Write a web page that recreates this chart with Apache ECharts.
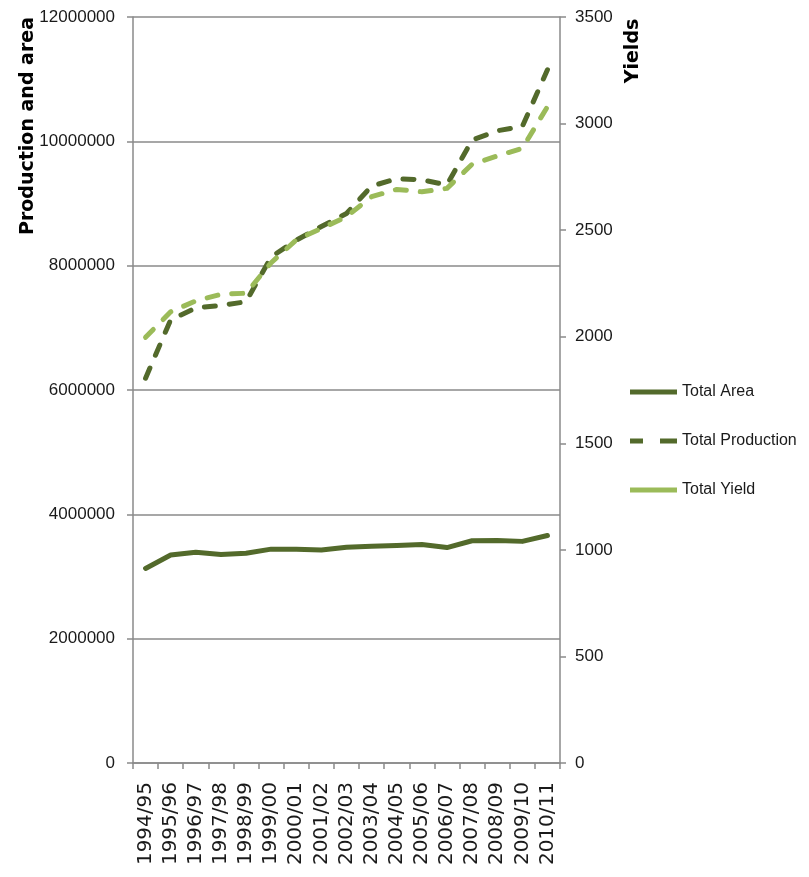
<!DOCTYPE html>
<html>
<head>
<meta charset="utf-8">
<script src="https://cdn.jsdelivr.net/npm/echarts@6/dist/echarts.min.js"></script>
<style>html,body{margin:0;padding:0;background:#fff}#c{width:809px;height:877px}</style>
</head>
<body>
<div id="c"></div>
<script>
const categories = ['1994/95','1995/96','1996/97','1997/98','1998/99','1999/00','2000/01','2001/02','2002/03','2003/04','2004/05','2005/06','2006/07','2007/08','2008/09','2009/10','2010/11'];
const totalArea = [3130000,3345000,3390000,3355000,3375000,3440000,3440000,3425000,3470000,3485000,3500000,3515000,3465000,3575000,3578000,3565000,3660000];
const totalProduction = [6190000,7130000,7320000,7360000,7420000,8140000,8410000,8630000,8840000,9280000,9400000,9380000,9300000,10020000,10170000,10240000,11150000];
const totalYield = [1997,2117,2168,2199,2204,2347,2454,2508,2563,2657,2691,2680,2696,2809,2848,2884,3079];
const leftTicks = {min:0, max:12000000, interval:2000000};
const rightTicks = {min:0, max:3500, interval:500};

const dark = '#536a2b';
const light = '#9bbb59';
const axisGray = '#8a8a8a';
const narrow = "'Liberation Sans', Arial, sans-serif";

const chart = echarts.init(document.getElementById('c'), null, {renderer:'canvas'});
chart.setOption({
  animation:false,
  backgroundColor:'#fff',
  grid:{left:133, right:249, top:17, bottom:114, containLabel:false},
  legend:{
    orient:'vertical', left:625, top:379,
    itemWidth:47, itemHeight:5, itemGap:33,
    textStyle:{fontFamily:narrow, fontSize:16, color:'#1a1a1a'},
    data:[
      {name:'Total Area', icon:'path://M0,0H47V5H0Z', itemStyle:{color:dark}},
      {name:'Total Production', icon:'path://M0,0H13V5H0Z M30,0H47V5H30Z', itemStyle:{color:dark}},
      {name:'Total Yield', icon:'path://M0,0H47V5H0Z', itemStyle:{color:light}}
    ]
  },
  graphic:[
    {type:'text', x:28, y:126, rotation:Math.PI/2,
     style:{text:'Production and area', font:"bold 19px 'DejaVu Sans', sans-serif", fill:'#000', align:'center', verticalAlign:'middle'}},
    {type:'text', x:633, y:51, rotation:Math.PI/2,
     style:{text:'Yields', font:"bold 19px 'DejaVu Sans', sans-serif", fill:'#000', align:'center', verticalAlign:'middle'}}
  ],
  xAxis:{
    type:'category', data:categories, boundaryGap:true,
    axisLine:{lineStyle:{color:axisGray, width:1.5}},
    axisTick:{show:true, length:6, lineStyle:{color:axisGray, width:1.5}},
    axisLabel:{rotate:90, interval:0, margin:19, fontFamily:"'DejaVu Sans', sans-serif", fontSize:20, color:'#1a1a1a'}
  },
  yAxis:[
    {type:'value', min:leftTicks.min, max:leftTicks.max, interval:leftTicks.interval,
     axisLine:{show:true, lineStyle:{color:axisGray, width:1.5}},
     axisTick:{show:true, length:6, lineStyle:{color:axisGray, width:1.5}},
     splitLine:{show:true, lineStyle:{color:axisGray, width:1.5}},
     axisLabel:{margin:18, fontFamily:narrow, fontSize:17, color:'#1a1a1a', formatter:v=>String(v)}},
    {type:'value', min:rightTicks.min, max:rightTicks.max, interval:rightTicks.interval, position:'right',
     axisLine:{show:true, lineStyle:{color:axisGray, width:1.5}},
     axisTick:{show:true, length:6, lineStyle:{color:axisGray, width:1.5}},
     splitLine:{show:false},
     axisLabel:{margin:15, fontFamily:narrow, fontSize:17, color:'#1a1a1a', formatter:v=>String(v)}}
  ],
  series:[
    {name:'Total Area', type:'line', yAxisIndex:0, data:totalArea, symbol:'none', showSymbol:false,
     lineStyle:{color:dark, width:5, cap:'round', join:'round'}, itemStyle:{color:dark}},
    {name:'Total Production', type:'line', yAxisIndex:0, data:totalProduction, symbol:'none', showSymbol:false,
     lineStyle:{color:dark, width:5, type:[11,14], cap:'round', join:'round'}, itemStyle:{color:dark}},
    {name:'Total Yield', type:'line', yAxisIndex:1, data:totalYield, symbol:'none', showSymbol:false,
     lineStyle:{color:light, width:5, type:[11,14], cap:'round', join:'round'}, itemStyle:{color:light}}
  ]
});
</script>
</body>
</html>
